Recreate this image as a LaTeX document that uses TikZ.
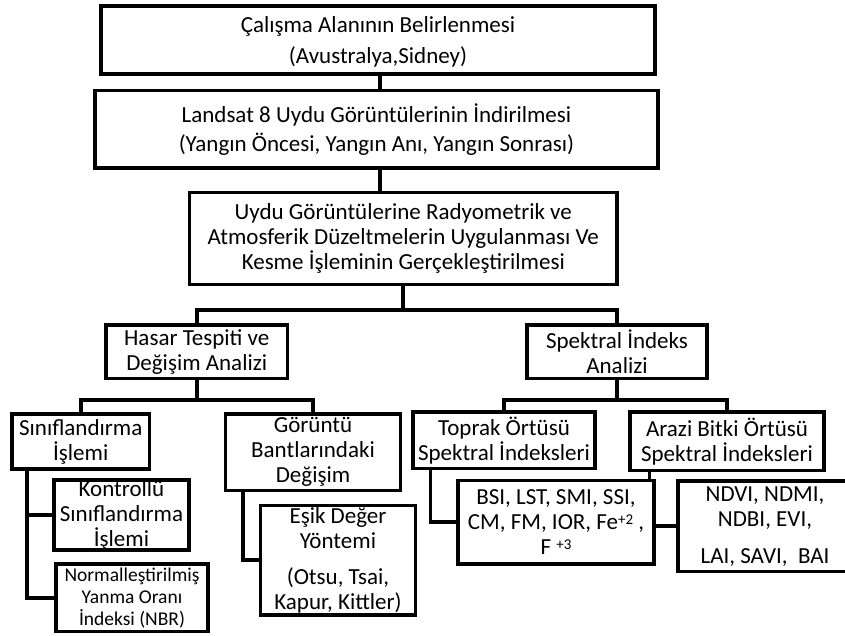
\documentclass[tikz,border=0pt]{standalone}
\usepackage{fontspec}
\setmainfont{Carlito}
\newcommand{\supx}[1]{\raisebox{5.5pt}{\fontsize{15}{15}\selectfont #1}}
\begin{document}
\begin{tikzpicture}[x=1pt,y=-1pt,
  box/.style={draw, line width=3.8pt, align=center, inner sep=0pt, font=\fontsize{23}{25}\selectfont},
  smallbox/.style={box, font=\fontsize{19.5}{22}\selectfont},
  conn/.style={line width=3.8pt, line cap=rect}]
\useasboundingbox (0,0) rectangle (845,636);

\node[box, minimum width=554pt, minimum height=68pt, text depth=0pt] (b1) at (378,40) {Çalışma Alanının Belirlenmesi\\[6pt](Avustralya,Sidney)};
\node[box, minimum width=563pt, minimum height=77.5pt] (b2) at (376.5,129.25) {Landsat 8 Uydu Görüntülerinin İndirilmesi\\[4pt](Yangın Öncesi, Yangın Anı, Yangın Sonrası)};
\node[box, minimum width=427.5pt, minimum height=92pt] (b3) at (403.25,238.5) {Uydu Görüntülerine Radyometrik ve\\Atmosferik Düzeltmelerin Uygulanması Ve\\Kesme İşleminin Gerçekleştirilmesi};
\node[box, minimum width=181.5pt, minimum height=53.5pt] (hasar) at (196.75,351.75) {Hasar Tespiti ve\\Değişim Analizi};
\node[box, minimum width=180pt, minimum height=53.5pt] (spek) at (617,351.75) {Spektral İndeks\\Analizi};
\node[box, minimum width=137.5pt, minimum height=55pt] (sinif) at (80.75,441.5) {Sınıflandırma\\İşlemi};
\node[box, minimum width=175pt, minimum height=76.5pt] (goruntu) at (313,452.25) {Görüntü\\Bantlarındaki\\Değişim};
\node[box, minimum width=135pt, minimum height=69pt] (kontrol) at (121.5,515) {Kontrollü\\Sınıflandırma\\İşlemi};
\node[smallbox, minimum width=152pt, minimum height=67.5pt] (nbr) at (132,597.75) {Normalleştirilmiş\\Yanma Oranı\\İndeksi (NBR)};
\node[box, minimum width=155pt, minimum height=109.5pt] (esik) at (338,560.25) {Eşik Değer\\Yöntemi\\[11pt](Otsu, Tsai,\\Kapur, Kittler)};
\node[box, minimum width=182pt, minimum height=56.5pt] (toprak) at (504,440.25) {Toprak Örtüsü\\Spektral İndeksleri};
\node[box, minimum width=194pt, minimum height=58.5pt] (arazi) at (727,441.25) {Arazi Bitki Örtüsü\\Spektral İndeksleri};
\node[box, minimum width=196pt, minimum height=83.5pt] (bsi) at (556,522.25) {BSI, LST, SMI, SSI,\\CM, FM, IOR, Fe\supx{+2} ,\\F \supx{+3}};
\node[box, minimum width=174pt, minimum height=90.5pt] (ndvi) at (765,526.25) {NDVI, NDMI,\\NDBI, EVI,\\[12pt]LAI, SAVI,\ \ BAI};

\coordinate (v1) at (380,0);
\coordinate (j1) at (0,310);
\coordinate (j2) at (0,400);
\coordinate (s1) at (27,0);
\coordinate (g1) at (243,0);
\coordinate (t1) at (430.5,0);
\coordinate (a1) at (649.5,0);

\draw[conn] (b1.south -| v1) -- (b2.north -| v1);
\draw[conn] (b2.south -| v1) -- (b3.north -| v1);
\draw[conn] (b3.south) -- (b3.south |- j1);
\draw[conn] (hasar.north) -- (hasar.north |- j1) -- (spek.north |- j1) -- (spek.north);
\draw[conn] (hasar.south) -- (hasar.south |- j2);
\draw[conn] (sinif.north) -- (sinif.north |- j2) -- (goruntu.north |- j2) -- (goruntu.north);
\draw[conn] (spek.south) -- (spek.south |- j2);
\draw[conn] (toprak.north) -- (toprak.north |- j2) -- (arazi.north |- j2) -- (arazi.north);
\draw[conn] (sinif.south -| s1) -- (s1 |- nbr.west) -- (nbr.west);
\draw[conn] (s1 |- kontrol.west) -- (kontrol.west);
\draw[conn] (goruntu.south -| g1) -- (g1 |- esik.west) -- (esik.west);
\draw[conn] (toprak.south -| t1) -- (t1 |- bsi.west) -- (bsi.west);
\draw[conn] (arazi.south -| a1) -- (bsi.north -| a1);
\draw[conn] (bsi.east |- ndvi.west) -- (ndvi.west);
\end{tikzpicture}
\end{document}
